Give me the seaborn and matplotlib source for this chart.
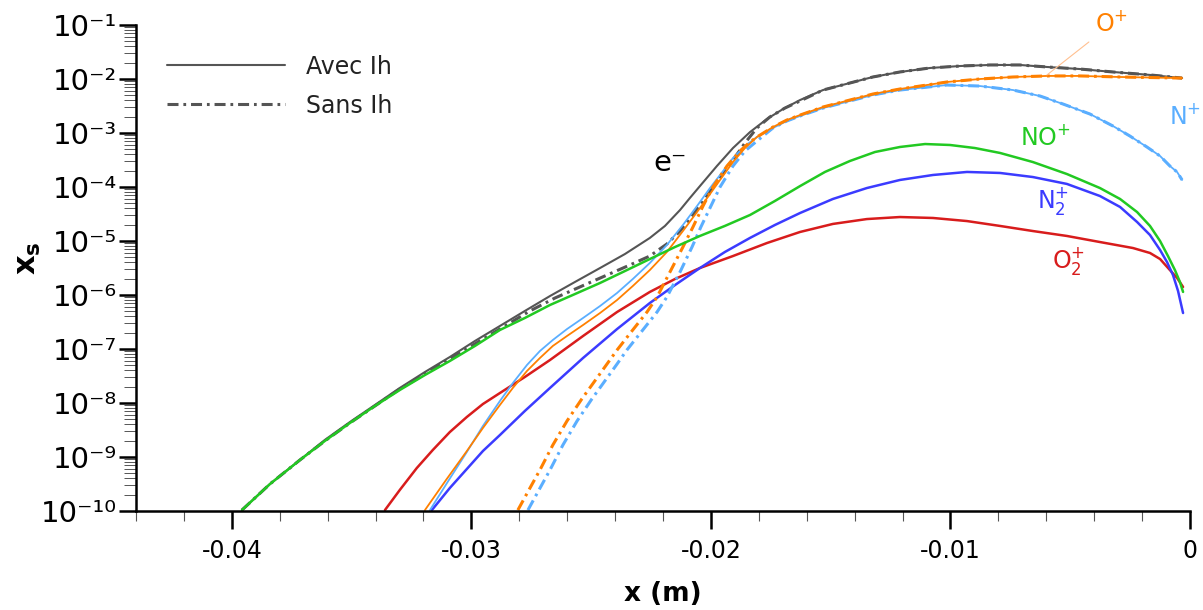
import numpy as np
import pandas as pd
import matplotlib
matplotlib.use("Agg")
import matplotlib.pyplot as plt
import seaborn as sns
from matplotlib.lines import Line2D
from matplotlib.ticker import MultipleLocator, LogLocator, NullFormatter, FuncFormatter

# ---------------- data ----------------
# electrons, with / without Ih
x_e_avec = [-0.03958, -0.03841, -0.03716, -0.03612, -0.03507, -0.03403, -0.03299, -0.03194,
            -0.03090, -0.02985, -0.02881, -0.02777, -0.02672, -0.02568, -0.02463, -0.02359,
            -0.02255, -0.02192, -0.02129, -0.02088, -0.02046, -0.01975, -0.01908, -0.01837,
            -0.01766, -0.01699, -0.01628, -0.01532, -0.01420, -0.01324, -0.01211, -0.01086,
            -0.00960, -0.00835, -0.00710, -0.00597, -0.00459, -0.00322, -0.00167, -0.00033]
y_e_avec = [1.04e-10, 3.16e-10, 8.80e-10, 2.07e-9, 4.45e-9, 9.18e-9, 1.90e-8, 3.75e-8,
            7.11e-8, 1.41e-7, 2.67e-7, 5.06e-7, 9.57e-7, 1.74e-6, 3.16e-6, 5.74e-6,
            1.14e-5, 1.90e-5, 3.75e-5, 6.25e-5, 1.04e-4, 2.45e-4, 5.27e-4, 1.04e-3,
            1.82e-3, 2.78e-3, 4.08e-3, 6.25e-3, 8.43e-3, 1.09e-2, 1.35e-2, 1.60e-2,
            1.74e-2, 1.82e-2, 1.82e-2, 1.67e-2, 1.53e-2, 1.35e-2, 1.19e-2, 1.04e-2]
x_e_sans = [-0.03958, -0.03841, -0.03716, -0.03612, -0.03507, -0.03403, -0.03299, -0.03194,
            -0.03090, -0.02965, -0.02860, -0.02756, -0.02651, -0.02547, -0.02443, -0.02338,
            -0.02255, -0.02184, -0.02129, -0.02075, -0.02017, -0.01962, -0.01908, -0.01858,
            -0.01808, -0.01754, -0.01691, -0.01628, -0.01532, -0.01420, -0.01324, -0.01211,
            -0.01086, -0.00960, -0.00835, -0.00710, -0.00597, -0.00459, -0.00322, -0.00167,
            -0.00033]
y_e_sans = [1.04e-10, 3.16e-10, 8.80e-10, 1.98e-9, 4.27e-9, 8.80e-9, 1.82e-8, 3.44e-8,
            6.53e-8, 1.41e-7, 2.67e-7, 5.06e-7, 8.80e-7, 1.41e-6, 2.25e-6, 3.60e-6,
            5.27e-6, 8.80e-6, 1.53e-5, 3.03e-5, 6.81e-5, 1.47e-4, 3.16e-4, 6.53e-4,
            1.24e-3, 1.98e-3, 2.90e-3, 3.92e-3, 6.25e-3, 8.43e-3, 1.09e-2, 1.35e-2,
            1.60e-2, 1.74e-2, 1.82e-2, 1.82e-2, 1.67e-2, 1.53e-2, 1.35e-2, 1.19e-2,
            1.04e-2]

# NO+
x_no = [-0.03958, -0.03841, -0.03716, -0.03612, -0.03507, -0.03403, -0.03299, -0.03194,
        -0.03090, -0.02985, -0.02881, -0.02777, -0.02672, -0.02568, -0.02463, -0.02359,
        -0.02255, -0.02150, -0.02046, -0.01942, -0.01837, -0.01733, -0.01628, -0.01524,
        -0.01420, -0.01315, -0.01211, -0.01106, -0.01002, -0.00898, -0.00793, -0.00656,
        -0.00514, -0.00376, -0.00292, -0.00221, -0.00167, -0.00125, -0.00092, -0.00063,
        -0.00042, -0.00029]
y_no = [1.04e-10, 3.16e-10, 8.80e-10, 1.98e-9, 4.27e-9, 8.80e-9, 1.74e-8, 3.30e-8,
        6.0e-8, 1.14e-7, 2.25e-7, 3.75e-7, 6.53e-7, 1.04e-6, 1.67e-6, 2.78e-6,
        4.64e-6, 7.74e-6, 1.24e-5, 1.90e-5, 3.03e-5, 5.51e-5, 1.04e-4, 1.90e-4,
        3.03e-4, 4.45e-4, 5.51e-4, 6.25e-4, 6.0e-4, 5.27e-4, 4.27e-4, 2.90e-4,
        1.74e-4, 9.57e-5, 6.0e-5, 3.44e-5, 1.90e-5, 1.0e-5, 5.27e-6, 2.90e-6,
        1.74e-6, 1.14e-6]

# N2+
x_n2 = [-0.03165, -0.03090, -0.03019, -0.02952, -0.02881, -0.02777, -0.02672, -0.02534,
        -0.02392, -0.02255, -0.02150, -0.02046, -0.01942, -0.01837, -0.01733, -0.01628,
        -0.01491, -0.01349, -0.01211, -0.01073, -0.00931, -0.00793, -0.00656, -0.00514,
        -0.00376, -0.00292, -0.00221, -0.00167, -0.00125, -0.00096, -0.00071, -0.00050,
        -0.00029]
y_n2 = [1.04e-10, 2.67e-10, 6.0e-10, 1.29e-9, 2.55e-9, 7.11e-9, 1.90e-8, 6.81e-8,
        2.34e-7, 7.11e-7, 1.53e-6, 3.16e-6, 6.25e-6, 1.14e-5, 1.98e-5, 3.30e-5,
        6.0e-5, 9.57e-5, 1.35e-4, 1.67e-4, 1.90e-4, 1.82e-4, 1.53e-4, 1.14e-4,
        6.81e-5, 4.27e-5, 2.25e-5, 1.29e-5, 6.81e-6, 4.08e-6, 2.34e-6, 1.19e-6,
        4.64e-7]

# O2+
x_o2 = [-0.03361, -0.03299, -0.03228, -0.03161, -0.03090, -0.03019, -0.02952, -0.02881,
        -0.02777, -0.02672, -0.02534, -0.02392, -0.02255, -0.02150, -0.02046, -0.01908,
        -0.01766, -0.01628, -0.01491, -0.01349, -0.01211, -0.01073, -0.00931, -0.00793,
        -0.00656, -0.00514, -0.00376, -0.00238, -0.00167, -0.00125, -0.00084, -0.00054,
        -0.00029]
y_o2 = [1.04e-10, 2.45e-10, 6.25e-10, 1.35e-9, 2.90e-9, 5.51e-9, 9.57e-9, 1.53e-8,
        3.03e-8, 6.25e-8, 1.74e-7, 4.84e-7, 1.14e-6, 1.98e-6, 3.16e-6, 5.27e-6,
        9.18e-6, 1.47e-5, 2.07e-5, 2.55e-5, 2.78e-5, 2.67e-5, 2.34e-5, 1.90e-5,
        1.53e-5, 1.24e-5, 9.57e-6, 7.41e-6, 6.0e-6, 4.64e-6, 2.90e-6, 2.07e-6,
        1.41e-6]

# O+, with / without Ih
x_op_avec = [-0.03194, -0.03106, -0.03019, -0.02952, -0.02881, -0.02827, -0.02768, -0.02714,
             -0.02660, -0.02601, -0.02534, -0.02463, -0.02392, -0.02326, -0.02255, -0.02184,
             -0.02117, -0.02058, -0.02004, -0.01962, -0.01908, -0.01858, -0.01808, -0.01741,
             -0.01683, -0.01628, -0.01532, -0.01420, -0.01324, -0.01211, -0.01127, -0.01015,
             -0.00877, -0.00739, -0.00597, -0.00459, -0.00292, -0.00033]
y_op_avec = [1.04e-10, 3.75e-10, 1.29e-9, 3.44e-9, 9.18e-9, 1.90e-8, 3.92e-8, 6.81e-8,
             1.14e-7, 1.74e-7, 2.78e-7, 4.64e-7, 8.07e-7, 1.47e-6, 2.90e-6, 6.25e-6,
             1.53e-5, 3.44e-5, 7.41e-5, 1.35e-4, 2.90e-4, 5.27e-4, 8.43e-4, 1.29e-3,
             1.74e-3, 2.15e-3, 3.03e-3, 4.08e-3, 5.27e-3, 6.53e-3, 7.41e-3, 8.80e-3,
             1.0e-2, 1.09e-2, 1.14e-2, 1.14e-2, 1.09e-2, 1.04e-2]
x_op_sans = [-0.02806, -0.02760, -0.02714, -0.02660, -0.02601, -0.02539, -0.02476, -0.02434,
             -0.02392, -0.02330, -0.02267, -0.02225, -0.02171, -0.02117, -0.02075, -0.02033,
             -0.01992, -0.01933, -0.01879, -0.01837, -0.01808, -0.01741, -0.01683, -0.01628,
             -0.01532, -0.01420, -0.01324, -0.01211, -0.01127, -0.01015, -0.00877, -0.00739,
             -0.00597, -0.00459, -0.00292, -0.00033]
y_op_sans = [1.04e-10, 2.45e-10, 5.74e-10, 1.67e-9, 4.64e-9, 1.19e-8, 2.90e-8, 5.27e-8,
             9.57e-8, 2.15e-7, 4.84e-7, 9.18e-7, 2.67e-6, 7.74e-6, 1.82e-5, 4.45e-5,
             1.0e-4, 2.45e-4, 4.64e-4, 6.81e-4, 8.43e-4, 1.29e-3, 1.74e-3, 2.15e-3,
             3.03e-3, 4.08e-3, 5.27e-3, 6.53e-3, 7.41e-3, 8.80e-3, 1.0e-2, 1.09e-2,
             1.14e-2, 1.14e-2, 1.09e-2, 1.04e-2]

# N+, with / without Ih
x_np_avec = [-0.03173, -0.03094, -0.03019, -0.02952, -0.02881, -0.02827, -0.02768, -0.02714,
             -0.02660, -0.02601, -0.02534, -0.02463, -0.02392, -0.02326, -0.02255, -0.02184,
             -0.02117, -0.02058, -0.02004, -0.01962, -0.01908, -0.01858, -0.01808, -0.01741,
             -0.01683, -0.01628, -0.01532, -0.01420, -0.01324, -0.01211, -0.01015, -0.00877,
             -0.00739, -0.00626, -0.00530, -0.00418, -0.00322, -0.00251, -0.00180, -0.00125,
             -0.00084, -0.00054, -0.00033]
y_np_avec = [1.04e-10, 3.75e-10, 1.24e-9, 3.75e-9, 1.09e-8, 2.34e-8, 5.06e-8, 9.18e-8,
             1.47e-7, 2.34e-7, 3.75e-7, 6.25e-7, 1.09e-6, 1.98e-6, 3.92e-6, 8.43e-6,
             1.98e-5, 4.45e-5, 9.57e-5, 1.67e-4, 3.44e-4, 5.74e-4, 8.43e-4, 1.24e-3,
             1.67e-3, 2.07e-3, 2.90e-3, 3.92e-3, 5.06e-3, 6.25e-3, 7.74e-3, 7.41e-3,
             6.25e-3, 4.84e-3, 3.44e-3, 2.25e-3, 1.35e-3, 8.80e-4, 5.51e-4, 3.75e-4,
             2.45e-4, 1.90e-4, 1.35e-4]
x_np_sans = [-0.02764, -0.02718, -0.02672, -0.02618, -0.02559, -0.02497, -0.02434, -0.02392,
             -0.02351, -0.02288, -0.02225, -0.02184, -0.02129, -0.02079, -0.02042, -0.02000,
             -0.01962, -0.01908, -0.01858, -0.01808, -0.01741, -0.01683, -0.01628, -0.01532,
             -0.01420, -0.01324, -0.01211, -0.01015, -0.00877, -0.00739, -0.00626, -0.00530,
             -0.00418, -0.00322, -0.00251, -0.00180, -0.00125, -0.00084, -0.00054, -0.00033]
y_np_sans = [1.04e-10, 2.45e-10, 5.74e-10, 1.67e-9, 4.64e-9, 1.19e-8, 2.90e-8, 5.27e-8,
             9.57e-8, 2.15e-7, 4.84e-7, 9.18e-7, 2.67e-6, 7.74e-6, 1.82e-5, 4.45e-5,
             1.0e-4, 2.45e-4, 4.64e-4, 7.11e-4, 1.24e-3, 1.67e-3, 2.07e-3, 2.90e-3,
             3.92e-3, 5.06e-3, 6.25e-3, 7.74e-3, 7.41e-3, 6.25e-3, 4.84e-3, 3.44e-3,
             2.25e-3, 1.35e-3, 8.80e-4, 5.51e-4, 3.75e-4, 2.45e-4, 1.90e-4, 1.35e-4]

legend_labels = ["Avec Ih", "Sans Ih"]

# ---------------- styling ----------------
C_GRAY = "#555555"
C_ORANGE = "#ff8000"
C_LBLUE = "#5aaeff"
C_GREEN = "#22c922"
C_BLUE = "#3b3bff"
C_RED = "#d81c1c"
DASHDOT = [3.6, 1.6, 0.9, 1.6]

sns.set_style("ticks")
plt.rcParams["font.family"] = ["DejaVu Sans"]
plt.rcParams["axes.unicode_minus"] = False
for k in ("text.color", "axes.labelcolor", "xtick.color", "ytick.color", "axes.edgecolor"):
    plt.rcParams[k] = "black"

fig = plt.figure(figsize=(12.03, 6.10), dpi=100)
ax = fig.add_axes([0.1131, 0.1623, 0.8761, 0.7967])
ax.set_yscale("log")


def draw(x, y, color, lw, dashed=False):
    df = pd.DataFrame({"x": x, "y": y})
    sns.lineplot(data=df, x="x", y="y", color=color, linewidth=lw,
                 estimator=None, sort=False, ax=ax, legend=False)
    line = ax.lines[-1]
    if dashed:
        line.set_dashes(DASHDOT)
    line.set_solid_joinstyle("round")
    return line


draw(x_e_sans, y_e_sans, C_GRAY, 2.2, dashed=True)
draw(x_e_avec, y_e_avec, C_GRAY, 1.5)
draw(x_o2, y_o2, C_RED, 1.8)
draw(x_n2, y_n2, C_BLUE, 1.8)
draw(x_np_sans, y_np_sans, C_LBLUE, 2.2, dashed=True)
draw(x_np_avec, y_np_avec, C_LBLUE, 1.3)
draw(x_op_sans, y_op_sans, C_ORANGE, 2.2, dashed=True)
draw(x_op_avec, y_op_avec, C_ORANGE, 1.3)
draw(x_no, y_no, C_GREEN, 1.8)

ax.set_xlim(-0.044, 0.0)
ax.set_ylim(1e-10, 1e-1)

SUP = str.maketrans("-0123456789", "⁻⁰¹²³⁴⁵⁶⁷⁸⁹")


def ylab(v, p):
    e = int(round(np.log10(v)))
    return "10" + str(e).translate(SUP)


# ticks
ax.xaxis.set_major_locator(MultipleLocator(0.01))
ax.xaxis.set_minor_locator(MultipleLocator(0.002))
ax.xaxis.set_major_formatter(FuncFormatter(lambda v, p: "0" if abs(v) < 1e-9 else f"{v:.2f}"))
ax.yaxis.set_major_locator(LogLocator(base=10, numticks=20))
ax.yaxis.set_major_formatter(FuncFormatter(ylab))
ax.yaxis.set_minor_locator(LogLocator(base=10, subs=np.arange(2, 10), numticks=200))
ax.yaxis.set_minor_formatter(NullFormatter())

ax.tick_params(axis="x", which="major", direction="out", length=13, width=1.8,
               labelsize=17, pad=7, color="black", labelcolor="black")
ax.tick_params(axis="x", which="minor", direction="out", length=7, width=0.8, color="#555555")
ax.tick_params(axis="y", which="major", direction="out", length=12.5, width=1.8,
               labelsize=21, pad=1, color="black", labelcolor="black")
ax.tick_params(axis="y", which="minor", direction="out", length=8.5, width=0.7, color="#555555")

sns.despine(ax=ax)
for s in ("left", "bottom"):
    ax.spines[s].set_linewidth(1.8)
    ax.spines[s].set_color("black")

ax.set_xlabel("x (m)", fontsize=19, fontweight="bold", color="black")
ax.xaxis.set_label_coords(0.5, -0.145)
ax.set_ylabel(r"$\mathbf{x_s}$", fontsize=22, color="black")
ax.yaxis.set_label_coords(-0.0885, 0.52)

# legend
handles = [Line2D([], [], color=C_GRAY, lw=1.5),
           Line2D([], [], color=C_GRAY, lw=2.2, dashes=DASHDOT)]
ax.legend(handles, legend_labels, loc="upper left", bbox_to_anchor=(0.029, 0.939),
          frameon=False, fontsize=17, handlelength=5.0, handletextpad=0.9,
          labelspacing=0.63, borderpad=0, borderaxespad=0, labelcolor="#222222")

# species labels
ax.text(-0.0217, 2.8e-4, "e⁻", fontsize=21, color="black", ha="center", va="center")
ax.text(-0.0002, 1.98e-3, r"N$^{+}$", fontsize=17, color=C_LBLUE, ha="center", va="center",
        clip_on=False)
ax.text(-0.00605, 8.43e-4, r"NO$^{+}$", fontsize=17, color=C_GREEN, ha="center", va="center")
ax.text(-0.00572, 5.5e-5, r"N$_{2}^{+}$", fontsize=17, color=C_BLUE, ha="center", va="center")
ax.text(-0.00509, 4.27e-6, r"O$_{2}^{+}$", fontsize=17, color=C_RED, ha="center", va="center")
ax.annotate(r"O$^{+}$", xy=(-0.00597, 1.19e-2), xytext=(-0.00326, 0.105),
            fontsize=17, color=C_ORANGE, ha="center", va="center", annotation_clip=False,
            arrowprops=dict(arrowstyle="-", color="#ffc090", lw=0.8, shrinkA=3, shrinkB=0))

fig.savefig("out.png", dpi=100)
